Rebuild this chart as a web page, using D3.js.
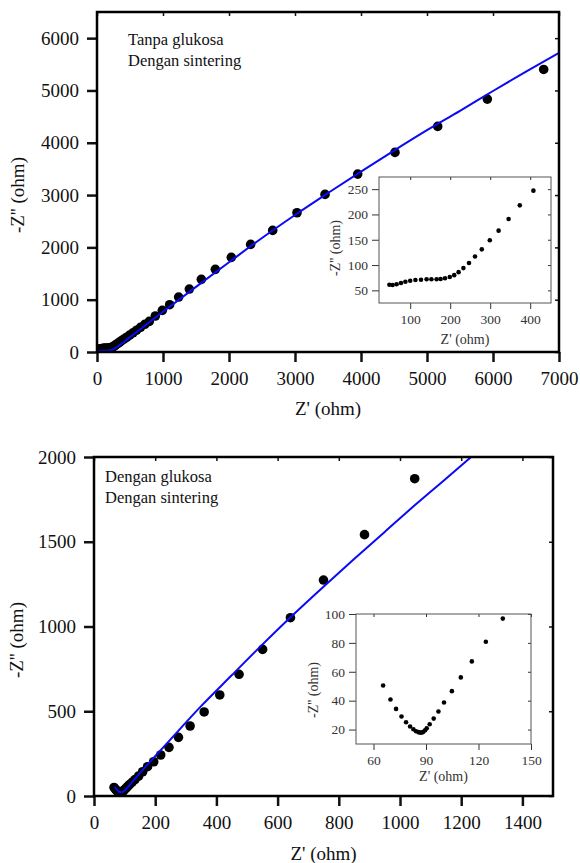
<!DOCTYPE html>
<html>
<head>
<meta charset="utf-8">
<script src="https://cdn.jsdelivr.net/npm/d3@7"></script>
<style>
  body { margin: 0; background: #fff; }
  svg text { font-family: "Liberation Serif", "DejaVu Serif", serif; }
</style>
</head>
<body>
<div id="chart"></div>
<script>
// ---- top panel: tanpa glukosa, dengan sintering ----
// low frequency part (also shown in the inset)
let topLowZre = [48, 56, 66, 77, 88, 100, 113, 127, 141, 153, 166, 176, 187, 199, 210, 221, 233, 247, 262, 279, 299, 321, 346, 374, 408];
let topLowZim = [61, 60.5, 62, 64.5, 67, 69, 70.5, 71, 72, 72, 72, 72.5, 74, 76.5, 80, 86, 94, 104, 117, 131, 149, 168, 191, 218, 247];
// rest of the measured points
let topHighZre = [450, 495, 545, 600, 660, 725, 793, 884, 990, 1101, 1237, 1399, 1581, 1793, 2035, 2328, 2662, 3030, 3455, 3950, 4515, 5162, 5914, 6768];
let topHighZim = [282, 322, 367, 417, 472, 530, 586, 688, 796, 904, 1051, 1204, 1389, 1580, 1809, 2057, 2325, 2662, 3013, 3401, 3816, 4313, 4835, 5402];
// fitted curve (blue)
let topFitZre = [10, 100, 180, 250, 320, 500, 1000, 1500, 2000, 2500, 3000, 3500, 4000, 4500, 5000, 5500, 6000, 6500, 7000];
let topFitZim = [20, 22, 30, 55, 110, 285, 770, 1245, 1715, 2180, 2620, 3040, 3450, 3850, 4240, 4610, 4990, 5360, 5720];
let topXTicks = [0, 1000, 2000, 3000, 4000, 5000, 6000, 7000];
let topYTicks = [0, 1000, 2000, 3000, 4000, 5000, 6000];
let topInsetXTicks = [100, 200, 300, 400];
let topInsetYTicks = [50, 100, 150, 200, 250];
let topNotes = ["Tanpa glukosa", "Dengan sintering"];

// ---- bottom panel: dengan glukosa, dengan sintering ----
let botLowZre = [65.5, 69.7, 72.9, 76.0, 78.6, 80.9, 82.8, 84.3, 85.7, 86.6, 87.6, 88.5, 89.5, 90.4, 92.1, 94.4, 97.1, 100.3, 104.8, 109.9, 116.2, 124.2, 133.9];
let botLowZim = [50.5, 40.8, 34.3, 29.0, 25.1, 22.1, 20.2, 18.8, 18.2, 17.9, 17.9, 18.4, 19.5, 20.9, 23.7, 27.6, 32.5, 38.7, 46.6, 56.1, 67.2, 80.8, 96.8];
let botHighZre = [146, 159, 175, 195, 218, 245, 276, 314, 360, 411, 474, 551, 642, 750, 884, 1048];
let botHighZim = [118, 143, 173, 202, 242, 287, 346, 413, 496, 596, 718, 865, 1052, 1274, 1542, 1872];
let botFitZre = [68, 74, 80, 88, 95, 105, 120, 150, 200, 248, 350, 450, 550, 650, 750, 850, 950, 1050, 1150, 1240];
let botFitZim = [55, 40, 28, 22, 25, 40, 72, 135, 235, 330, 530, 712, 893, 1068, 1235, 1398, 1558, 1718, 1872, 2012];
let botXTicks = [0, 200, 400, 600, 800, 1000, 1200, 1400];
let botYTicks = [0, 500, 1000, 1500, 2000];
let botInsetXTicks = [60, 90, 120, 150];
let botInsetYTicks = [20, 40, 60, 80, 100];
let botNotes = ["Dengan glukosa", "Dengan sintering"];

let serif = "Liberation Serif";

let svg = d3.select("#chart").append("svg")
    .attr("width", 580)
    .attr("height", 863)
    .attr("font-family", serif);

function styleAxis(ax, size, width, color) {
    ax.select(".domain").remove();
    ax.attr("font-family", serif).attr("font-size", size);
    ax.selectAll("line").attr("stroke", color).attr("stroke-width", width);
    ax.selectAll("text").attr("fill", color).attr("font-family", serif);
}

function drawMain(id, box, xDom, yDom, xTicks, yTicks, dotRe, dotIm, fitRe, fitIm, notes, noteX, noteY, yTitle, xTitleY) {
    let x = d3.scaleLinear().domain(xDom).range([box.left, box.right]);
    let y = d3.scaleLinear().domain(yDom).range([box.bottom, box.top]);
    let g = svg.append("g");

    g.append("clipPath").attr("id", id)
        .append("rect")
        .attr("x", box.left).attr("y", box.top)
        .attr("width", box.right - box.left).attr("height", box.bottom - box.top);

    // outer ticks with labels
    let ax = g.append("g").attr("transform", "translate(0," + box.bottom + ")")
        .call(d3.axisBottom(x).tickValues(xTicks).tickSize(10).tickPadding(10).tickFormat(d3.format("d")));
    styleAxis(ax, 19, 2.5, "#111");
    let ay = g.append("g").attr("transform", "translate(" + box.left + ",0)")
        .call(d3.axisLeft(y).tickValues(yTicks).tickSize(10).tickPadding(8).tickFormat(d3.format("d")));
    styleAxis(ay, 19, 2.5, "#111");

    // small inner ticks on top and right
    let at = g.append("g").attr("transform", "translate(0," + box.top + ")")
        .call(d3.axisTop(x).tickValues(xTicks).tickSize(-4).tickFormat(""));
    styleAxis(at, 10, 1.5, "#111");
    let ar = g.append("g").attr("transform", "translate(" + box.right + ",0)")
        .call(d3.axisRight(y).tickValues(yTicks).tickSize(-4).tickFormat(""));
    styleAxis(ar, 10, 1.5, "#111");

    // data points
    g.append("g").attr("clip-path", "url(#" + id + ")")
        .selectAll("circle")
        .data(d3.zip(dotRe, dotIm))
        .join("circle")
        .attr("cx", d => x(d[0]))
        .attr("cy", d => y(d[1]))
        .attr("r", 4.8)
        .attr("fill", "#000");

    // fit line on top of the points
    g.append("path")
        .datum(d3.zip(fitRe, fitIm))
        .attr("clip-path", "url(#" + id + ")")
        .attr("fill", "none")
        .attr("stroke", "#0a0af5")
        .attr("stroke-width", 2)
        .attr("d", d3.line().curve(d3.curveMonotoneX).x(d => x(d[0])).y(d => y(d[1])));

    // frame
    g.append("rect")
        .attr("x", box.left).attr("y", box.top)
        .attr("width", box.right - box.left).attr("height", box.bottom - box.top)
        .attr("fill", "none").attr("stroke", "#000").attr("stroke-width", 2.5);

    // sample notes
    g.selectAll(".note")
        .data(notes)
        .join("text")
        .attr("x", noteX)
        .attr("y", (d, i) => noteY + i * 21)
        .attr("font-size", 16.5)
        .attr("fill", "#111")
        .text(d => d);

    // axis titles
    g.append("text")
        .attr("x", (box.left + box.right) / 2)
        .attr("y", xTitleY)
        .attr("text-anchor", "middle")
        .attr("font-size", 19)
        .attr("fill", "#111")
        .text("Z' (ohm)");
    g.append("text")
        .attr("transform", "translate(" + yTitle.x + "," + yTitle.y + ") rotate(-90)")
        .attr("text-anchor", "middle")
        .attr("font-size", 19)
        .attr("fill", "#111")
        .text("-Z'' (ohm)");
}

function drawInset(box, xDom, yDom, xTicks, yTicks, dotRe, dotIm, xTitleY, yTitle) {
    let x = d3.scaleLinear().domain(xDom).range([box.left, box.right]);
    let y = d3.scaleLinear().domain(yDom).range([box.bottom, box.top]);
    let g = svg.append("g");

    g.append("rect")
        .attr("x", box.left).attr("y", box.top)
        .attr("width", box.right - box.left).attr("height", box.bottom - box.top)
        .attr("fill", "#fff");

    let ax = g.append("g").attr("transform", "translate(0," + box.bottom + ")")
        .call(d3.axisBottom(x).tickValues(xTicks).tickSize(6).tickPadding(5));
    styleAxis(ax, 13.5, 1, "#333");
    let ay = g.append("g").attr("transform", "translate(" + box.left + ",0)")
        .call(d3.axisLeft(y).tickValues(yTicks).tickSize(7).tickPadding(4));
    styleAxis(ay, 13.5, 1, "#333");
    let at = g.append("g").attr("transform", "translate(0," + box.top + ")")
        .call(d3.axisTop(x).tickValues(xTicks).tickSize(-3).tickFormat(""));
    styleAxis(at, 10, 1, "#333");
    let ar = g.append("g").attr("transform", "translate(" + box.right + ",0)")
        .call(d3.axisRight(y).tickValues(yTicks).tickSize(-3).tickFormat(""));
    styleAxis(ar, 10, 1, "#333");

    g.append("g")
        .selectAll("circle")
        .data(d3.zip(dotRe, dotIm))
        .join("circle")
        .attr("cx", d => x(d[0]))
        .attr("cy", d => y(d[1]))
        .attr("r", 2.3)
        .attr("fill", "#000");

    g.append("rect")
        .attr("x", box.left).attr("y", box.top)
        .attr("width", box.right - box.left).attr("height", box.bottom - box.top)
        .attr("fill", "none").attr("stroke", "#555").attr("stroke-width", 1);

    g.append("text")
        .attr("x", (box.left + box.right) / 2)
        .attr("y", xTitleY)
        .attr("text-anchor", "middle")
        .attr("font-size", 14)
        .attr("fill", "#333")
        .text("Z' (ohm)");
    g.append("text")
        .attr("transform", "translate(" + yTitle.x + "," + yTitle.y + ") rotate(-90)")
        .attr("text-anchor", "middle")
        .attr("font-size", 14)
        .attr("fill", "#333")
        .text("-Z'' (ohm)");
}

// top chart
drawMain("clip-top", {left: 97, right: 559, top: 12, bottom: 352}, [0, 7000], [0, 6500],
    topXTicks, topYTicks,
    topLowZre.concat(topHighZre), topLowZim.concat(topHighZim),
    topFitZre, topFitZim, topNotes, 128, 45, {x: 24, y: 195}, 415);
drawInset({left: 379, right: 551, top: 177, bottom: 303}, [22, 452], [25, 274],
    topInsetXTicks, topInsetYTicks, topLowZre, topLowZim, 344, {x: 340, y: 248});

// bottom chart
drawMain("clip-bot", {left: 94, right: 553, top: 457, bottom: 796}, [0, 1500], [0, 2000],
    botXTicks, botYTicks,
    botLowZre.concat(botHighZre), botLowZim.concat(botHighZim),
    botFitZre, botFitZim, botNotes, 105, 482, {x: 23, y: 640}, 860);
drawInset({left: 356, right: 531, top: 614, bottom: 744}, [50, 150], [10, 100],
    botInsetXTicks, botInsetYTicks, botLowZre, botLowZim, 781, {x: 318, y: 690});
</script>
</body>
</html>
